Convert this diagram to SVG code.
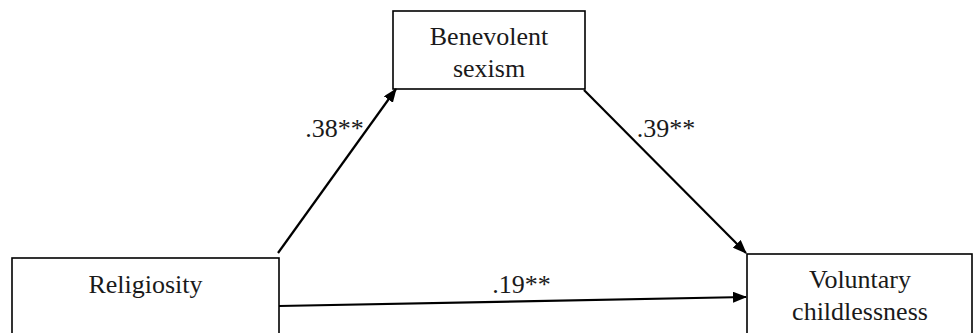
<svg xmlns="http://www.w3.org/2000/svg" width="973" height="333" viewBox="0 0 973 333">
<style>
.box{fill:#fff;stroke:#000;stroke-width:1.6}
.t{font-family:"Liberation Serif","Times New Roman",serif;font-size:26px;fill:#1a1a1a;text-anchor:middle}
.c{stroke:#000;stroke-width:2.2;fill:none;marker-end:url(#ah)}
</style>
<defs>
<marker id="ah" markerWidth="14" markerHeight="11" refX="13" refY="5.5" orient="auto" markerUnits="userSpaceOnUse" viewBox="0 0 14 11">
<path d="M0,0 L14,5.5 L0,11 Z" fill="#000"/>
</marker>
</defs>
<rect width="973" height="333" fill="#fff"/>
<g id="benevolent">
<rect class="box" x="393" y="11" width="192" height="78"/>
<text class="t" x="489" y="45">Benevolent</text>
<text class="t" x="489" y="77">sexism</text>
</g>
<g id="religiosity">
<rect class="box" x="12" y="258" width="267" height="90"/>
<text class="t" x="145.5" y="293">Religiosity</text>
</g>
<g id="voluntary">
<rect class="box" x="747" y="254" width="225" height="94"/>
<text class="t" x="860" y="288">Voluntary</text>
<text class="t" x="860" y="320">childlessness</text>
</g>
<g id="connectors">
<line class="c" x1="278" y1="253" x2="396" y2="89"/>
<line class="c" x1="584" y1="90" x2="746" y2="253"/>
<line class="c" x1="279" y1="306" x2="746" y2="297"/>
<text class="t" x="334.5" y="137">.38**</text>
<text class="t" x="666" y="137">.39**</text>
<text class="t" x="521.5" y="293">.19**</text>
</g>
</svg>
